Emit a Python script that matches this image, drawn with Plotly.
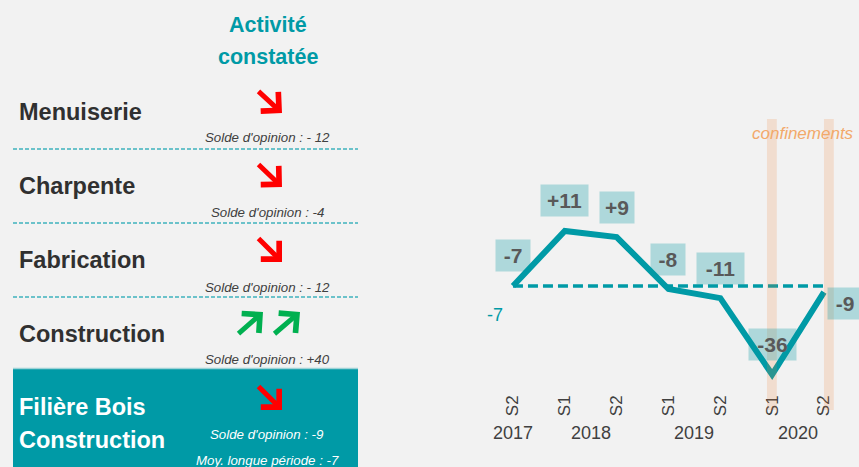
import plotly.graph_objects as go

# --- data ---
periods = ["S2", "S1", "S2", "S1", "S2", "S1", "S2"]
years = ["2017", "2018", "2019", "2020"]
year_pos = [0, 1.5, 3.5, 5.5]
solde = [-7, 11, 9, -8, -11, -36, -9]
moy_longue = -7

secteurs = ["Menuiserie", "Charpente", "Fabrication", "Construction"]
soldes_secteurs = ["- 12", "-4", "- 12", "+40"]
filiere_solde = "-9"
confinement_idx = [5, 6]

W, H = 859, 467
TEAL = "#009aa6"
BG = "#f2f2f2"
FONT = "Arial, Liberation Sans, sans-serif"


def px(x):
    return x / W


def py(y):
    return 1 - y / H


def text(x, y, txt, size, color, xanchor="center"):
    # free text placed in page pixels
    fig.add_annotation(x=px(x), y=py(y), xref="paper", yref="paper",
                       xanchor=xanchor, yanchor="middle", text=txt,
                       showarrow=False, font=dict(size=size, color=color))


xs = list(range(len(solde)))

fig = go.Figure()

# moyenne longue periode
fig.add_trace(go.Scatter(
    x=[xs[0], xs[-1]], y=[moy_longue, moy_longue], mode="lines",
    line=dict(color=TEAL, width=3.5, dash="10px,5px"), hoverinfo="skip"))

fig.add_trace(go.Scatter(
    x=xs, y=solde, mode="lines",
    line=dict(color=TEAL, width=6), hoverinfo="skip"))

fig.update_layout(
    width=W, height=H, margin=dict(l=0, r=0, t=0, b=0),
    paper_bgcolor=BG, plot_bgcolor=BG, showlegend=False,
    font=dict(family=FONT, color="#404040"),
    xaxis=dict(domain=[0.567, 0.9894], range=[-0.5, 6.5],
               tickmode="array", tickvals=xs, ticktext=periods,
               tickangle=-90, tickfont=dict(size=17, color="#404040"),
               showgrid=False, zeroline=False, showline=False, ticks=""),
    yaxis=dict(domain=[0.1627, 0.597], range=[-41.4, 25], visible=False),
)

# confinements bands
for i in confinement_idx:
    x0 = i - 0.1 if i == confinement_idx[0] else i
    fig.add_shape(type="rect", xref="x", yref="paper",
                  x0=x0, x1=x0 + 0.19, y0=py(410), y1=py(119),
                  fillcolor="rgba(237,125,49,0.18)", line_width=0, layer="above")
fig.add_annotation(x=5.6, y=py(134), xref="x", yref="paper",
                   yanchor="middle", text="<i>confinements</i>",
                   showarrow=False, font=dict(size=17, color="#f2a96a"))

# data labels
for i, v in enumerate(solde):
    txt = f"+{v}" if v > 0 else str(v)
    last = i == len(solde) - 1
    fig.add_annotation(
        x=i, y=v, xref="x", yref="y", text=f"<b>{txt}</b>", showarrow=False,
        xshift=21 if last else 0, yshift=-11 if last else 30,
        font=dict(size=21, color="#595959"),
        bgcolor="rgba(0,150,162,0.28)", borderpad=4,
        width=13 * len(txt), height=23)

fig.add_annotation(x=-0.35, y=-16.5, xref="x", yref="y", text=str(moy_longue),
                   showarrow=False, font=dict(size=18, color=TEAL))

# years
for yr, p in zip(years, year_pos):
    fig.add_annotation(x=p, y=py(433), xref="x", yref="paper", yanchor="middle",
                       text=yr, showarrow=False,
                       font=dict(size=18, color="#404040"))

# --- left table ---
text(268, 25, "<b>Activité</b>", 21.5, TEAL)
text(268, 57, "<b>constatée</b>", 21.5, TEAL)

row_y = [112, 186, 260, 334]
solde_y = [137, 212, 287, 359]
for name, s, ry, sy in zip(secteurs, soldes_secteurs, row_y, solde_y):
    text(17, ry, f"<b>{name}</b>", 23.5, "#303030", xanchor="left")
    text(267, sy, f"<i>Solde d'opinion : {s}</i>", 13.3, "#404040")

for sep in [149, 223, 297]:
    fig.add_shape(type="line", xref="paper", yref="paper",
                  x0=px(13), x1=px(358), y0=py(sep), y1=py(sep),
                  line=dict(color="#3fb3bd", width=1.5, dash="4px,2px"))

# filiere box
fig.add_shape(type="rect", xref="paper", yref="paper",
              x0=px(13), x1=px(358), y0=0, y1=py(369),
              fillcolor=TEAL, line_width=0, layer="below")
fig.add_shape(type="line", xref="paper", yref="paper",
              x0=px(13), x1=px(358), y0=py(368.5), y1=py(368.5),
              line=dict(color="#9fd3d7", width=1.5))
text(17, 407, "<b>Filière Bois</b>", 23.5, "white", xanchor="left")
text(17, 440, "<b>Construction</b>", 23.5, "white", xanchor="left")
text(267, 434, f"<i>Solde d'opinion : {filiere_solde}</i>", 13.3, "white")
text(267, 460, f"<i>Moy. longue période : {moy_longue}</i>", 13.3, "white")

# tendance arrows
RED, GREEN = "#ff0000", "#00b050"
arrows = [
    (282, 113, -25, -23, RED),
    (282, 187, -25, -24, RED),
    (282, 262, -25, -25, RED),
    (263, 312, -26, 23, GREEN),
    (300, 312, -27, 23, GREEN),
    (282, 410, -25, -25, RED),
]
for hx, hy, ax, ay, col in arrows:
    fig.add_annotation(x=px(hx), y=py(hy), xref="paper", yref="paper",
                       ax=ax, ay=ay, text="", showarrow=True,
                       arrowhead=4, arrowsize=1, arrowwidth=5, arrowcolor=col)

fig.write_html("out.html", config={"displayModeBar": False},
               post_script="document.body.style.margin='0';")
